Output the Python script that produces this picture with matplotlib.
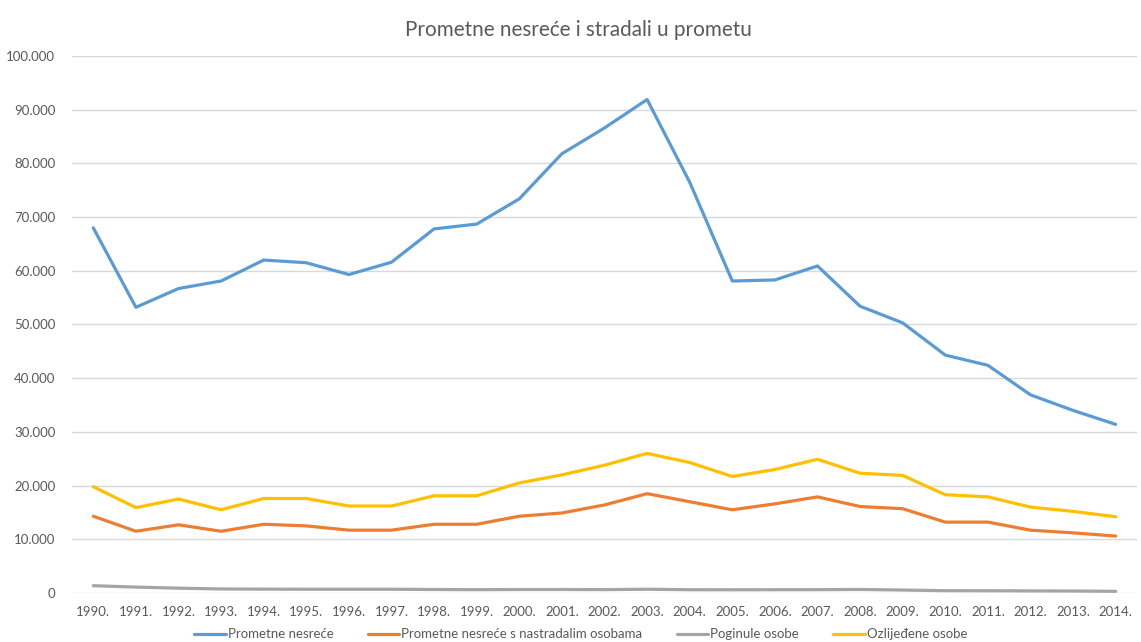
import matplotlib
matplotlib.use("Agg")
import matplotlib.pyplot as plt
from matplotlib.ticker import FuncFormatter, MultipleLocator

years = [f"{y}." for y in range(1990, 2015)]

nesrece = [68.0, 53.2, 56.7, 58.1, 62.0, 61.5, 59.3, 61.6, 67.8, 68.7, 73.4, 81.8, 86.6, 91.9,
           76.5, 58.1, 58.3, 60.9, 53.4, 50.3, 44.3, 42.4, 36.9, 34.0, 31.4]
nastradali = [14.3, 11.5, 12.7, 11.5, 12.8, 12.5, 11.7, 11.7, 12.8, 12.8, 14.3, 14.9, 16.4, 18.5,
              17.0, 15.5, 16.6, 17.9, 16.1, 15.7, 13.2, 13.2, 11.7, 11.2, 10.6]
poginule = [1.36, 1.1, 0.9, 0.75, 0.72, 0.70, 0.70, 0.70, 0.65, 0.62, 0.65, 0.65, 0.63, 0.70,
            0.61, 0.60, 0.61, 0.62, 0.66, 0.55, 0.43, 0.42, 0.39, 0.37, 0.31]
ozlijedene = [19.8, 15.9, 17.5, 15.5, 17.6, 17.6, 16.2, 16.2, 18.1, 18.1, 20.5, 22.0, 23.8, 26.0,
              24.3, 21.7, 23.0, 24.9, 22.3, 21.9, 18.3, 17.9, 16.0, 15.2, 14.2]

series = [
    ("Prometne nesreće", nesrece, "#5B9BD5"),
    ("Prometne nesreće s nastradalim osobama", nastradali, "#ED7D31"),
    ("Poginule osobe", poginule, "#A5A5A5"),
    ("Ozlijeđene osobe", ozlijedene, "#FFC000"),
]

plt.rcParams['font.family'] = ['Lato', 'DejaVu Sans']

fig = plt.figure(figsize=(11.41, 6.42), dpi=100)
ax = fig.add_axes([72/1141, 49/642, 1065/1141, 537/642])

x = list(range(len(years)))
for name, vals, col in series:
    ax.plot(x, [v * 1000 for v in vals], color=col, lw=2.3, label=name, solid_capstyle='round')

ax.set_xlim(-0.5, len(years) - 0.5)
ax.set_ylim(0, 100000)
ax.yaxis.set_major_locator(MultipleLocator(10000))
ax.yaxis.set_major_formatter(FuncFormatter(lambda v, p: f"{int(v):,}".replace(",", ".")))
ax.set_xticks(x)
ax.set_xticklabels(years)
ax.grid(axis='y', color='#d9d9d9', lw=1)
ax.set_axisbelow(True)
for s in ax.spines.values():
    s.set_visible(False)
ax.tick_params(axis='both', length=0, colors='#595959', labelsize=9.5)
ax.tick_params(axis='x', pad=9)
ax.tick_params(axis='y', pad=12)

fig.text(0.507, 0.953, "Prometne nesreće i stradali u prometu", ha='center', va='center',
         fontsize=14.9, color='#595959')

leg = fig.legend(loc='center', bbox_to_anchor=(0.509, 0.012), ncol=4, frameon=False,
                 fontsize=9.5, handlelength=2.4, handletextpad=0.15, columnspacing=2.6,
                 labelcolor='#595959')

fig.savefig("out.png", dpi=100)
